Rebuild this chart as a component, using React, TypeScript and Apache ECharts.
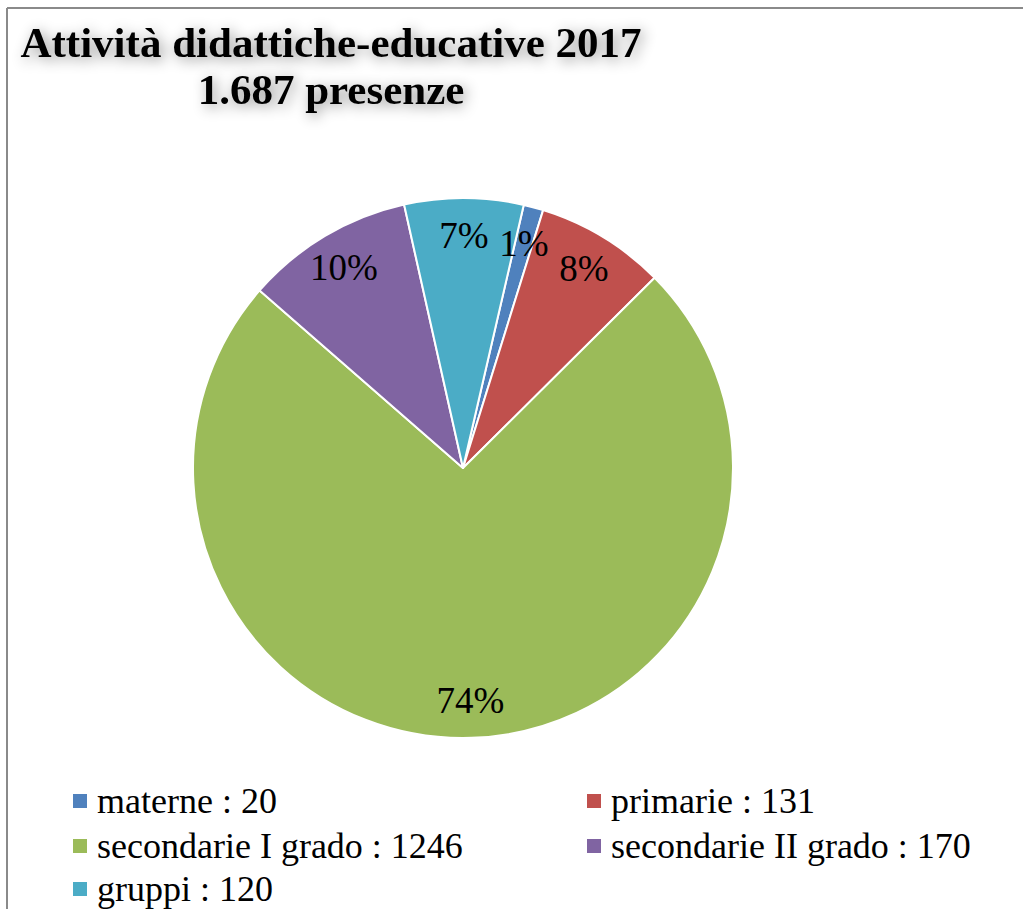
import React, { useEffect, useRef } from "react";
import * as echarts from "echarts";

const categories = ["materne", "primarie", "secondarie I grado", "secondarie II grado", "gruppi"];
const values = [20, 131, 1246, 170, 120];
const colors = ["#4F81BD", "#C0504D", "#9BBB59", "#8064A2", "#4BACC6"];
// legend layout: [name, column, row]
const legendCells: [string, number, number][] = [
  ["materne", 0, 0],
  ["primarie", 1, 0],
  ["secondarie I grado", 0, 1],
  ["secondarie II grado", 1, 1],
  ["gruppi", 0, 2],
];
const titleText = "Attività didattiche-educative 2017\n1.687 presenze";

export default function App() {
  const ref = useRef<HTMLDivElement>(null);
  useEffect(() => {
    if (!ref.current) return;
    const chart = echarts.init(ref.current, null, { renderer: "svg" });
    const data = categories.map((name, i) => ({
      name,
      value: values[i],
      itemStyle: { color: colors[i] },
    }));
    const valueOf = (name: string) => values[categories.indexOf(name)];
    const colLeft = [66, 580];
    const rowCenter = [801, 846, 889];
    const legends = legendCells.map(([name, c, r]) => ({
      orient: "horizontal" as const,
      left: colLeft[c],
      top: rowCenter[r] - 25,
      icon: "rect",
      itemWidth: 16,
      itemHeight: 16,
      data: [name],
      selectedMode: false,
      textStyle: {
        fontFamily: "Liberation Serif",
        fontSize: 36,
        lineHeight: 40,
        color: "#000",
        padding: [0, 0, 0, 4],
      },
      formatter: (n: string) => `${n} : ${valueOf(n)}`,
    }));
    chart.setOption({
      animation: false,
      backgroundColor: "#fff",
      title: {
        text: titleText,
        left: 326,
        top: 14,
        textAlign: "center",
        textStyle: {
          fontFamily: "Liberation Serif",
          fontWeight: "bold",
          fontSize: 43,
          lineHeight: 47,
          color: "#000",
          textShadowColor: "rgba(0,0,0,0.45)",
          textShadowBlur: 14,
          textShadowOffsetX: 3,
          textShadowOffsetY: 3,
        },
      },
      legend: legends,
      graphic: [
        { type: "line", shape: { x1: 7, y1: 8, x2: 1023, y2: 8 }, style: { stroke: "#8a8a8a", lineWidth: 2 } },
        { type: "line", shape: { x1: 7, y1: 8, x2: 7, y2: 909 }, style: { stroke: "#8a8a8a", lineWidth: 2 } },
      ],
      series: [
        {
          type: "pie",
          center: [463, 468],
          radius: [0, 270],
          startAngle: 77,
          clockwise: true,
          data,
          label: { show: false },
          labelLine: { show: false },
          itemStyle: { borderColor: "#fff", borderWidth: 2 },
          emphasis: { disabled: true },
        },
        {
          type: "pie",
          center: [463, 468],
          radius: [190, 270],
          startAngle: 77,
          clockwise: true,
          silent: true,
          data: categories.map((name, i) => ({ name, value: values[i] })),
          itemStyle: { color: "rgba(0,0,0,0)" },
          label: {
            show: true,
            position: "inside",
            fontFamily: "Liberation Serif",
            fontSize: 37,
            color: "#000",
            formatter: (p: any) => `${Math.round(p.percent)}%`,
          },
          labelLine: { show: false },
          emphasis: { disabled: true },
        },
      ],
    });
    return () => chart.dispose();
  }, []);
  return (
    <div
      ref={ref}
      style={{ position: "fixed", left: 0, top: 0, width: 1023, height: 909 }}
    />
  );
}
